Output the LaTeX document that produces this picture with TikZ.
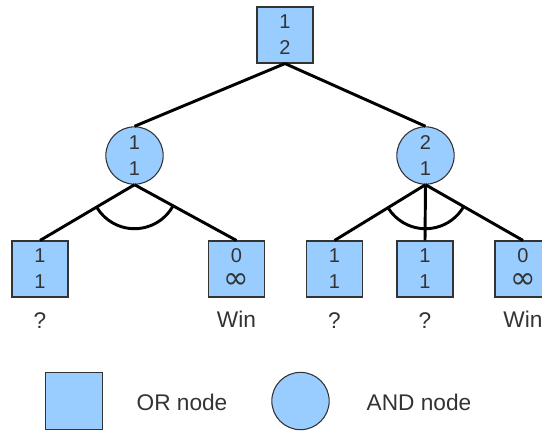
\documentclass[tikz,border=0pt]{standalone}
\usepackage{fontspec}
\setmainfont{Liberation Sans}
\newfontfamily\symfont{DejaVu Sans}
\usepackage{xcolor}
\usetikzlibrary{positioning}
\definecolor{nodeblue}{RGB}{153,204,255}
\definecolor{inkgrey}{RGB}{51,51,51}
\newcommand{\infsign}{{\symfont\fontsize{23}{19.5}\selectfont ∞}}
\tikzset{
  ornode/.style={draw=inkgrey, fill=nodeblue, line width=0.8pt, minimum size=42pt, inner sep=0pt,
    align=center, text=inkgrey, font=\fontsize{15}{19.5}\selectfont},
  andnode/.style={ornode, circle, minimum size=43pt},
  link/.style={line width=2.2pt},
  tag/.style={text=inkgrey, font=\fontsize{17}{20}\selectfont}
}
\begin{document}
\begin{tikzpicture}[x=0.75pt,y=0.75pt,yscale=-1,xscale=1]
\useasboundingbox (0,0) rectangle (542,430);
\clip (0,0) rectangle (542,430);

% OR root
\node [ornode] (root) at (285,35) {1\\2};
% AND nodes
\node [andnode] (andL) at (134.5,155.5) {1\\1};
\node [andnode] (andR) at (425.5,155.5) {2\\1};
% leaves
\node [ornode] (leafA) at (40,269) {1\\1};
\node [ornode] (leafB) at (236.5,269) {0\\\infsign};
\node [ornode] (leafC) at (334.5,269) {1\\1};
\node [ornode] (leafD) at (425,269) {1\\1};
\node [ornode] (leafE) at (523,269) {0\\\infsign};

% Text Node
\node [tag] (tagA) at (40,321) {?};
\node [tag] (tagB) at (236.5,319) {Win};
\node [tag] (tagC) at (334.5,321) {?};
\node [tag] (tagD) at (425,321) {?};
\node [tag] (tagE) at (523,319) {Win};

% links
\draw [link] (root.south) -- (andL.north);
\draw [link] (root.south) -- (andR.north);
\draw [link] (andL.south) -- (leafA.north);
\draw [link] (andL.south) -- (leafB.north);
\draw [link] (andR.south) -- (leafC.north);
\draw [link] (andR.south) -- (leafD.north);
\draw [link] (andR.south) -- (leafE.north);
% AND arcs
\draw [link] (andL.south) ++(29.2:44) arc [start angle=29.2, end angle=148.9, radius=44];
\draw [link] (andR.south) ++(30.3:44) arc [start angle=30.3, end angle=147.9, radius=44];

% legend
\node [ornode, minimum size=43pt] (keyOr) at (74,401) {};
\node [tag] (keyOrText) at (182,402) {OR node};
\node [andnode] (keyAnd) at (300.5,401) {};
\node [tag] (keyAndText) at (419,402) {AND node};

\end{tikzpicture}
\end{document}
